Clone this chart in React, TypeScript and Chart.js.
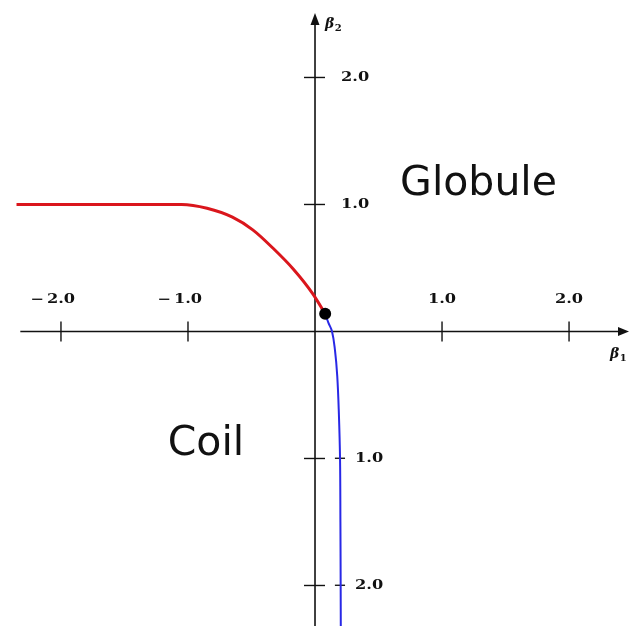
import { useEffect, useRef } from "react";
import { Chart, registerables } from "chart.js";

Chart.register(...registerables);

// Coil–globule transition line (red) and the coil-side boundary (blue)
const redX = [-2.35, -1.05, -0.85, -0.65, -0.49, -0.33, -0.17, -0.02, 0.08];
const redY = [1.0, 1.0, 0.97, 0.9, 0.8, 0.655, 0.49, 0.3, 0.14];

const blueX = [0.08, 0.105, 0.134, 0.157, 0.175, 0.188, 0.197, 0.2, 0.202, 0.203];
const blueY = [0.14, 0.07, 0.0, -0.145, -0.35, -0.65, -1.0, -1.5, -2.0, -2.35];

// Tricritical point where both lines meet
const criticalX = [0.08];
const criticalY = [0.14];

// Axis ticks and their labels
const xTicks = [-2, -1, 1, 2];
const xTickLabels = ["−2.0", "−1.0", "1.0", "2.0"];
const yTicks = [-2, -1, 1, 2];
const yTickLabels = ["−2.0", "−1.0", "1.0", "2.0"];

// Phase region names
const regionNames = ["Globule", "Coil"];
const regionX = [0.67, -1.16];
const regionY = [1.075, -0.972];

const axisNames = ["β", "β"];
const axisSubs = ["1", "2"];

const X_MIN = -2.48;
const X_MAX = 2.472;
const Y_MIN = -2.319;
const Y_MAX = 2.61;
const X_AXIS_START = -2.32;

const toPoints = (xs: number[], ys: number[]) => xs.map((x, i) => ({ x, y: ys[i] }));

const NUM_FONT = 'bold 12px "DejaVu Serif", serif';
const NUM_STRETCH = 1.35;

function drawStretched(ctx: CanvasRenderingContext2D, text: string, x: number, y: number, align: CanvasTextAlign) {
  ctx.save();
  ctx.translate(x, y);
  ctx.scale(NUM_STRETCH, 1);
  ctx.textAlign = align;
  ctx.fillText(text, 0, 0);
  ctx.restore();
}

function stretchedWidth(ctx: CanvasRenderingContext2D, text: string) {
  return ctx.measureText(text).width * NUM_STRETCH;
}

const axesPlugin = {
  id: "crossAxes",
  beforeDatasetsDraw(chart: any) {
    const ctx: CanvasRenderingContext2D = chart.ctx;
    const xs = chart.scales.x;
    const ys = chart.scales.y;
    const area = chart.chartArea;
    const ox = xs.getPixelForValue(0);
    const oy = ys.getPixelForValue(0);

    ctx.save();
    ctx.strokeStyle = "#111";
    ctx.fillStyle = "#111";
    ctx.lineWidth = 1.6;

    // horizontal axis with arrow
    const xEnd = area.right;
    ctx.beginPath();
    ctx.moveTo(xs.getPixelForValue(X_AXIS_START), oy);
    ctx.lineTo(xEnd - 6, oy);
    ctx.stroke();
    ctx.beginPath();
    ctx.moveTo(xEnd, oy);
    ctx.lineTo(xEnd - 11, oy - 4.5);
    ctx.lineTo(xEnd - 11, oy + 4.5);
    ctx.closePath();
    ctx.fill();

    // vertical axis with arrow
    const yTop = area.top + 13;
    ctx.beginPath();
    ctx.moveTo(ox, area.bottom);
    ctx.lineTo(ox, yTop + 6);
    ctx.stroke();
    ctx.beginPath();
    ctx.moveTo(ox, yTop);
    ctx.lineTo(ox - 4.5, yTop + 12);
    ctx.lineTo(ox + 4.5, yTop + 12);
    ctx.closePath();
    ctx.fill();

    // tick marks
    ctx.lineWidth = 1.4;
    xTicks.forEach((v) => {
      const px = xs.getPixelForValue(v);
      ctx.beginPath();
      ctx.moveTo(px, oy - 10);
      ctx.lineTo(px, oy + 10);
      ctx.stroke();
    });
    yTicks.forEach((v) => {
      const py = ys.getPixelForValue(v);
      ctx.beginPath();
      ctx.moveTo(ox - 11, py);
      ctx.lineTo(ox + 10, py);
      ctx.stroke();
    });

    // tick labels
    ctx.font = NUM_FONT;
    ctx.textBaseline = "middle";
    xTicks.forEach((v, i) => {
      const px = xs.getPixelForValue(v);
      const label = xTickLabels[i];
      const neg = label.startsWith("−");
      const num = neg ? label.slice(1) : label;
      const ly = oy - 32;
      drawStretched(ctx, num, px, ly, "center");
      if (neg) {
        const w = stretchedWidth(ctx, num);
        drawStretched(ctx, "−", px - w / 2 - 3, ly, "right");
      }
    });
    yTicks.forEach((v, i) => {
      const py = ys.getPixelForValue(v);
      const label = yTickLabels[i];
      const neg = label.startsWith("−");
      const num = neg ? label.slice(1) : label;
      if (neg) {
        drawStretched(ctx, "−", ox + 18, py, "left");
        drawStretched(ctx, num, ox + 40, py, "left");
      } else {
        drawStretched(ctx, num, ox + 26, py, "left");
      }
    });

    // axis names
    ctx.textBaseline = "alphabetic";
    const drawAxisName = (name: string, sub: string, x: number, y: number) => {
      ctx.font = 'italic bold 14px "DejaVu Serif", serif';
      ctx.textAlign = "left";
      ctx.fillText(name, x, y);
      const w = ctx.measureText(name).width;
      ctx.font = 'bold 10px "DejaVu Serif", serif';
      ctx.fillText(sub, x + w + 0.5, y + 3);
    };
    drawAxisName(axisNames[0], axisSubs[0], area.right - 19, oy + 27);
    drawAxisName(axisNames[1], axisSubs[1], ox + 10, area.top + 28);

    // region names
    ctx.font = '41px "DejaVu Sans", sans-serif';
    ctx.textAlign = "left";
    regionNames.forEach((name, i) => {
      ctx.fillText(name, xs.getPixelForValue(regionX[i]), ys.getPixelForValue(regionY[i]));
    });

    ctx.restore();
  },
};

export default function App() {
  const canvasRef = useRef<HTMLCanvasElement | null>(null);

  useEffect(() => {
    const canvas = canvasRef.current;
    if (!canvas) return;
    const chart = new Chart(canvas, {
      type: "scatter",
      data: {
        datasets: [
          {
            label: "critical point",
            data: toPoints(criticalX, criticalY),
            pointRadius: 6,
            pointBackgroundColor: "#000",
            pointBorderWidth: 0,
            showLine: false,
            order: 0,
          },
          {
            label: "transition",
            data: toPoints(redX, redY),
            showLine: true,
            borderColor: "rgb(218, 22, 28)",
            borderWidth: 3,
            pointRadius: 0,
            cubicInterpolationMode: "monotone",
            order: 1,
          },
          {
            label: "coil boundary",
            data: toPoints(blueX, blueY),
            showLine: true,
            borderColor: "rgb(40, 40, 230)",
            borderWidth: 2,
            pointRadius: 0,
            tension: 0.4,
            order: 2,
          },
        ],
      },
      options: {
        animation: false,
        responsive: true,
        maintainAspectRatio: false,
        layout: { padding: 0, autoPadding: false },
        plugins: {
          legend: { display: false },
          tooltip: { enabled: false },
        },
        scales: {
          x: { type: "linear", min: X_MIN, max: X_MAX, display: false },
          y: { type: "linear", min: Y_MIN, max: Y_MAX, display: false },
        },
      },
      plugins: [axesPlugin],
    });
    return () => chart.destroy();
  }, []);

  return (
    <div style={{ position: "fixed", left: 0, top: 0, width: 629, height: 626, background: "#fff" }}>
      <canvas ref={canvasRef} />
    </div>
  );
}
